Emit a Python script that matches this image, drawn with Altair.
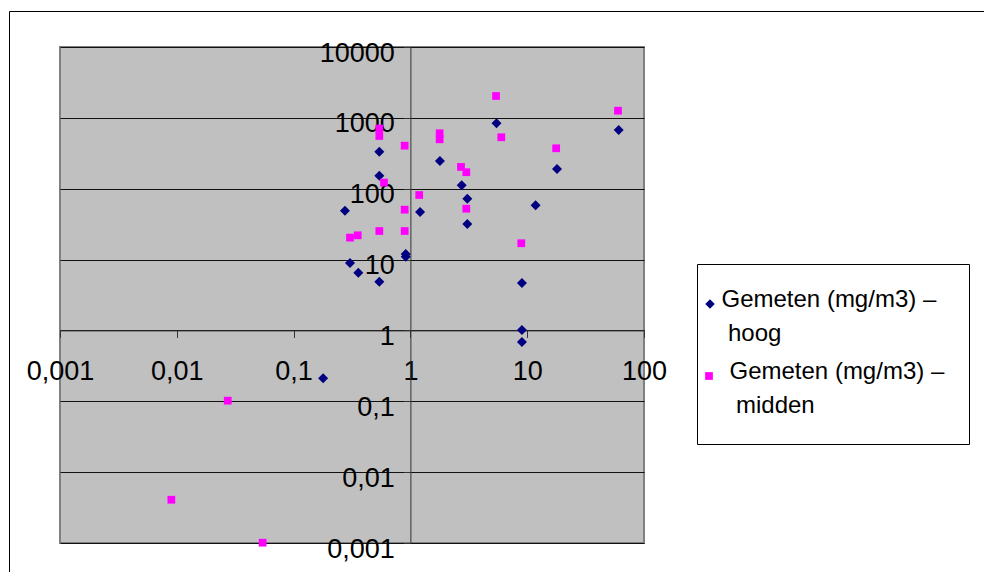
import altair as alt
import pandas as pd

# ---- data ----
series_names = ["Gemeten (mg/m3) – hoog", "Gemeten (mg/m3) – midden"]
series_colors = ["#000080", "#FF00FF"]
series_shapes = ["diamond", "square"]

hoog_x = [0.275, 0.542, 0.542, 0.304, 0.358, 0.542, 0.912, 0.912, 1.21, 1.79,
          2.75, 3.07, 3.07, 5.46, 60.7, 18.0, 11.8, 9.02, 9.02, 9.02, 0.179]
hoog_y = [49, 333, 153, 8.95, 6.53, 4.87, 12, 11, 46.9, 246,
          112, 72.3, 31.8, 838, 674, 190, 58.3, 4.67, 1.01, 0.687, 0.211]

midden_x = [0.542, 0.542, 0.893, 0.594, 0.304, 0.354, 0.542, 0.893, 0.893, 1.19,
            1.78, 1.78, 2.71, 3.01, 3.01, 5.41, 6.0, 17.7, 59.9, 8.9,
            0.0273, 0.00898, 0.0543]
midden_y = [707, 555, 405, 122, 20.4, 22.0, 25.3, 50.6, 25.3, 81.5,
            606, 498, 203, 171, 52.2, 2035, 532, 372, 1262, 17.0,
            0.102, 0.00408, 0.00101]

x_ticks = [0.001, 0.01, 0.1, 1, 10, 100]
y_ticks = [0.001, 0.01, 0.1, 1, 10, 100, 1000, 10000]
legend_lines = [["Gemeten (mg/m3) –", "hoog"], ["Gemeten (mg/m3) –", "midden"]]

# ---- layout ----
W, H = 584, 496
FONT = "Liberation Sans"

df = pd.DataFrame({
    "serie": [series_names[0]] * len(hoog_x) + [series_names[1]] * len(midden_x),
    "x": hoog_x + midden_x,
    "y": hoog_y + midden_y,
})
one = pd.DataFrame({"d": [0]})

label_expr = "replace(toString(datum.value), '.', ',')"

points = alt.Chart(df).mark_point(filled=True, opacity=1).encode(
    x=alt.X("x:Q",
            scale=alt.Scale(type="log", domain=[0.001, 100], nice=False),
            axis=alt.Axis(values=x_ticks, offset=-H * 3 / 7, grid=False, title=None,
                          labelExpr=label_expr, labelFontSize=27, labelFont=FONT,
                          labelColor="black", tickSize=7, tickColor="#333333",
                          domainColor="#333333", labelPadding=21, labelBaseline="top",
                          labelFlush=False, labelOverlap=False)),
    y=alt.Y("y:Q",
            scale=alt.Scale(type="log", domain=[0.001, 10000], nice=False),
            axis=alt.Axis(values=y_ticks, offset=-W * 3 / 5, grid=True, gridColor="#111111",
                          gridWidth=1, gridOpacity=1, title=None,
                          labelExpr=label_expr, labelFontSize=27, labelFont=FONT,
                          labelColor="black", tickSize=7, tickColor="#333333",
                          domainColor="#333333", labelPadding=9, labelOffset=6,
                          labelBaseline="middle", labelFlush=False, labelOverlap=False)),
    color=alt.Color("serie:N", scale=alt.Scale(domain=series_names, range=series_colors), legend=None),
    shape=alt.Shape("serie:N", scale=alt.Scale(domain=series_names, range=series_shapes), legend=None),
    size=alt.Size("serie:N", scale=alt.Scale(domain=series_names, range=[100, 60]), legend=None),
)

border = alt.Chart(one).mark_rect(fillOpacity=0, stroke="black", strokeWidth=1).encode(
    x=alt.value(-50.5), x2=alt.value(1000), y=alt.value(-35.5), y2=alt.value(700))

legend_box = alt.Chart(one).mark_rect(fill="white", stroke="black", strokeWidth=1).encode(
    x=alt.value(637.5), x2=alt.value(909.5), y=alt.value(217.5), y2=alt.value(397.5))

sym1 = alt.Chart(one).mark_point(filled=True, opacity=1, shape=series_shapes[0],
                                 color=series_colors[0], size=90).encode(
    x=alt.value(650), y=alt.value(257))
sym2 = alt.Chart(one).mark_point(filled=True, opacity=1, shape=series_shapes[1],
                                 color=series_colors[1], size=60).encode(
    x=alt.value(649), y=alt.value(329))

def txt(s, x, y):
    return alt.Chart(one).mark_text(align="left", baseline="alphabetic", fontSize=24,
                                    font=FONT, color="black").encode(
        x=alt.value(x), y=alt.value(y), text=alt.value(s))

t1 = txt(legend_lines[0][0], 661.5, 259.7)
t2 = txt(legend_lines[0][1], 668, 294)
t3 = txt(legend_lines[1][0], 669.5, 332)
t4 = txt(legend_lines[1][1], 676, 366.3)

chart = alt.layer(border, points, legend_box, sym1, sym2, t1, t2, t3, t4).properties(
    width=W, height=H,
    padding={"left": 60, "top": 47, "right": 340, "bottom": 29},
    autosize=alt.AutoSizeParams(type="none"),
    background="white",
).configure_view(fill="#C0C0C0", stroke="#808080", strokeWidth=2)

chart.save("out.html", embed_options={"renderer": "svg", "actions": False})
